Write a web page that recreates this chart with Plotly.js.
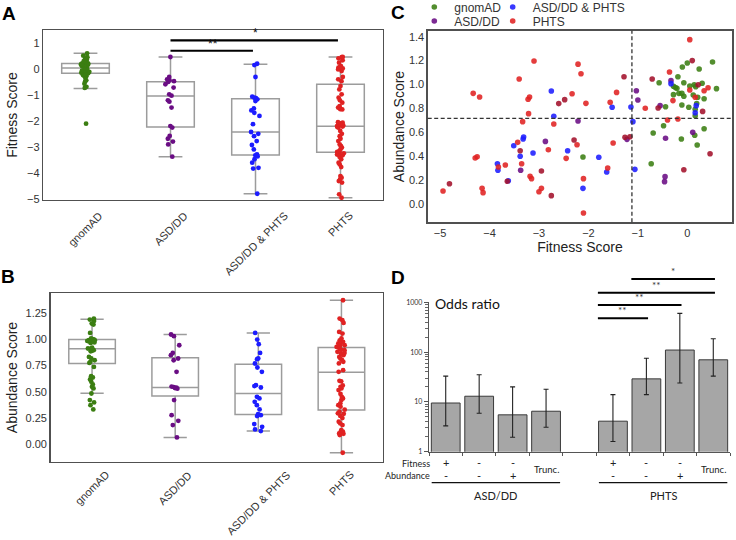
<!DOCTYPE html>
<html><head><meta charset="utf-8">
<script src="https://cdn.plot.ly/plotly-3.0.1.min.js"></script>
<style>html,body{margin:0;padding:0;background:#fff}</style>
</head><body><div id="chart" style="width:736px;height:540px"></div>
<script>
// ---------- categories ----------
const groups = ['gnomAD', 'ASD/DD', 'ASD/DD & PHTS', 'PHTS'];

// ---------- Panel A: fitness scores (strip points) ----------
const fitGnomad = [0.60,0.51,0.45,0.40,0.35,0.30,0.28,0.24,0.21,0.20,0.19,0.17,0.16,0.16,0.15,0.14,0.12,0.10,0.05,0.03,0.00,-0.05,-0.07,-0.07,-0.10,-0.11,-0.12,-0.15,-0.17,-0.19,-0.21,-0.24,-0.28,-0.28,-0.35,-0.44,-0.48,-0.57,-0.69,-0.73,-2.11];
const fitAsd = [0.46,-0.31,-0.40,-0.44,-0.47,-0.50,-0.59,-0.72,-0.98,-1.03,-1.21,-1.26,-1.49,-2.20,-2.26,-2.58,-2.69,-2.80,-2.91,-3.38];
const fitBoth = [0.20,0.15,-0.31,-1.07,-1.11,-1.13,-1.17,-1.24,-1.52,-1.60,-1.69,-1.81,-2.13,-2.43,-2.50,-2.59,-2.78,-2.93,-3.10,-3.29,-3.33,-3.37,-3.48,-3.61,-3.81,-3.84,-4.81];
const fitPhts = [0.46,0.45,0.41,0.33,0.24,0.11,0.08,0.05,0.02,-0.02,-0.08,-0.31,-0.40,-0.47,-0.66,-0.79,-0.98,-1.11,-1.21,-1.30,-1.43,-1.49,-1.50,-1.55,-1.56,-2.05,-2.07,-2.10,-2.11,-2.12,-2.14,-2.16,-2.18,-2.20,-2.22,-2.24,-2.26,-2.39,-2.50,-2.59,-2.69,-2.78,-2.91,-2.97,-3.03,-3.10,-3.16,-3.20,-3.23,-3.25,-3.29,-3.30,-3.33,-3.39,-3.48,-3.61,-3.68,-3.78,-4.13,-4.19,-4.26,-4.32,-4.38,-4.83,-4.96];
// box statistics
const fitQ1 = [-0.17, -2.24, -3.32, -3.21];
const fitMedian = [0.04, -1.04, -2.43, -2.21];
const fitQ3 = [0.21, -0.49, -1.15, -0.59];
const fitLow = [-0.75, -3.38, -4.81, -4.96];
const fitHigh = [0.60, 0.46, 0.18, 0.46];
// significance in A: [from group, to group], label, level (fitness score)
const sigA = [[1, 2], [1, 3]];
const sigALabels = ['**', '*'];
const sigALevels = [0.70, 1.10];

// ---------- Panel B: abundance scores (strip points) ----------
const abGnomad = [1.197,1.187,1.174,1.149,1.14,1.06,1.007,1.0,0.997,0.991,0.99,0.984,0.98,0.975,0.97,0.965,0.921,0.912,0.91,0.902,0.896,0.89,0.886,0.832,0.817,0.80,0.785,0.775,0.737,0.649,0.636,0.617,0.595,0.57,0.547,0.532,0.484,0.421,0.399,0.373,0.332];
const abAsd = [1.045,1.029,0.943,0.87,0.848,0.817,0.80,0.69,0.55,0.545,0.54,0.535,0.53,0.421,0.278,0.224,0.183,0.066];
const abBoth = [1.06,0.997,0.953,0.87,0.817,0.81,0.769,0.731,0.69,0.563,0.554,0.541,0.452,0.437,0.405,0.373,0.332,0.288,0.278,0.269,0.193,0.167,0.142,0.126];
const abPhts = [1.371,1.197,1.181,1.155,1.07,1.054,1.007,0.99,0.975,0.96,0.95,0.943,0.93,0.927,0.912,0.90,0.896,0.88,0.87,0.864,0.848,0.832,0.817,0.80,0.785,0.77,0.706,0.69,0.604,0.60,0.56,0.547,0.532,0.516,0.48,0.452,0.437,0.421,0.39,0.373,0.358,0.33,0.31,0.295,0.29,0.27,0.25,0.215,0.199,0.183,0.136,0.12,0.12,0.104,0.10,0.088,-0.08];
const abQ1 = [0.77, 0.459, 0.285, 0.326];
const abMedian = [0.91, 0.541, 0.484, 0.687];
const abQ3 = [0.997, 0.823, 0.763, 0.921];
const abLow = [0.487, 0.066, 0.126, -0.08];
const abHigh = [1.19, 1.045, 1.06, 1.371];

// ---------- Panel C: fitness vs abundance ----------
const cGnomadFit = [0.51,0.00,-0.10,0.24,-0.19,-0.57,-0.07,0.14,0.30,0.05,0.17,0.59,-0.28,-0.21,-0.24,-0.17,-0.11,-0.28,-0.07,0.12,0.21,0.34,-0.11,-0.44,0.03,0.19,0.16,0.16,-0.48,0.34,-0.69,0.15,-0.12,0.20,-2.11,-0.73];
const cGnomadAb = [1.188,1.18,1.146,1.13,1.065,1.015,1.015,0.998,1.01,0.987,0.982,0.965,0.985,0.968,0.975,0.926,0.926,0.915,0.901,0.912,0.893,0.881,0.828,0.814,0.809,0.84,0.792,0.739,0.655,0.63,0.594,0.575,0.544,0.494,0.393,0.337];
const cAsdFit = [-2.21,-2.87,-3.37,-0.33,-1.03,-1.00,-0.55,0.11,-0.44,-1.22,-0.45,-0.46];
const cAsdAb = [0.695,0.524,0.282,1.032,0.948,0.870,0.823,0.600,0.55,0.541,0.229,0.187];
const cBothFit = [-2.75,-2.70,-3.31,-3.32,-3.51,-2.42,-3.12,-3.38,-3.84,-3.83,-3.62,-0.33,-1.52,-1.14,0.18,0.16,-1.10,-1.79,-1.63,-1.06,-2.11];
const cBothAb = [0.946,0.734,0.561,0.544,0.488,0.446,0.427,0.399,0.337,0.282,0.195,1.007,0.809,0.812,0.823,0.764,0.689,0.391,0.268,0.290,0.131];
const cPhtsFit = [-3.10,-2.21,-2.15,-3.40,-4.33,-4.20,-2.33,-3.19,-3.22,-3.21,-3.33,-2.70,-3.43,-2.23,-2.81,-2.45,-4.29,-4.25,-3.35,-3.68,-3.82,-3.18,-3.15,-4.94,-4.15,-4.13,-2.95,-3.00,0.05,-0.36,0.42,0.34,0.05,-1.43,-1.56,-2.05,-0.29,-0.85,0.16,-0.40,-0.19,-1.50,-1.61,-2.10,-2.10];
const cPhtsAb = [1.197,1.17,1.09,1.046,0.926,0.895,0.923,0.895,0.876,0.756,0.689,0.669,0.516,0.496,0.454,0.382,0.385,0.396,0.337,0.326,0.31,0.232,0.212,0.109,0.131,0.095,0.131,0.103,1.375,1.105,0.973,0.948,0.954,0.934,0.851,0.842,0.865,0.801,0.893,0.703,0.711,0.510,0.301,0.212,-0.075];
// overlapping (dark red) PHTS points
const cOverFit = [-2.48,-2.60,-2.29,-3.38,-2.95,-3.64,-4.81,-2.75,0.10,-1.28,-0.71,0.22,-0.59,0.31,-1.26,-1.16,0.46,-0.07];
const cOverAb = [0.873,0.84,0.536,0.446,0.276,0.19,0.17,0.07,1.20,1.065,1.046,0.998,0.803,0.775,0.558,0.563,0.421,0.287];
const fitThreshold = -1.12;
const abThreshold = 0.717;

// ---------- Panel D: odds ratios ----------
const orGroup = ['ASD/DD','ASD/DD','ASD/DD','ASD/DD','PHTS','PHTS','PHTS','PHTS'];
const orFitness = ['+','-','-','Trunc.','+','-','-','Trunc.'];
const orAbundance = ['-','-','+','','-','-','+',''];
const orValue = [9.5, 13.0, 5.5, 6.5, 4.1, 29, 110, 70];
const orUpper = [33, 35, 20, 18, 14, 75, 600, 185];
const orLower = [3.3, 5.9, 1.95, 3.1, 1.6, 14, 24, 33];
const orTicks = [1, 10, 100, 1000];
const sigD = [[4,5],[4,6],[4,7],[5,7]];   // indices into orValue
const sigDLabels = ['**','**','**','*'];

// ---------- styling ----------
const W = 736, H = 540;
const px = x => x / W;
const py = y => 1 - y / H;
const colors = {'gnomAD':'#3b7e12','ASD/DD':'#6a0d84','ASD/DD & PHTS':'#1c1cff','PHTS':'#e02222'};
const darkRed = '#a3112b';
const font = 'Liberation Sans, Arial, sans-serif';
const dfont = 'Lato, Open Sans, sans-serif';
const txt = '#333333';
const frame = '#505050';
const boxLine = '#9c9c9c';
const slot = i => (i < 4 ? i : i + 1);

const traces = [];
const fitData = [fitGnomad, fitAsd, fitBoth, fitPhts];
const abData = [abGnomad, abAsd, abBoth, abPhts];

// box statistics traces
traces.push({type:'box', xaxis:'x', yaxis:'y', x:groups, q1:fitQ1, median:fitMedian, q3:fitQ3,
  lowerfence:fitLow, upperfence:fitHigh, boxpoints:false, whiskerwidth:0.5,
  line:{color:boxLine, width:1.5}, fillcolor:'rgba(0,0,0,0)', showlegend:false, hoverinfo:'skip'});
traces.push({type:'box', xaxis:'x2', yaxis:'y2', x:groups, q1:abQ1, median:abMedian, q3:abQ3,
  lowerfence:abLow, upperfence:abHigh, boxpoints:false, whiskerwidth:0.5,
  line:{color:boxLine, width:1.5}, fillcolor:'rgba(0,0,0,0)', showlegend:false, hoverinfo:'skip'});
// strip points
groups.forEach((g, i) => {
  [[fitData[i], 'x', 'y'], [abData[i], 'x2', 'y2']].forEach(([vals, xa, ya]) => {
    traces.push({type:'box', xaxis:xa, yaxis:ya, name:g, x:vals.map(() => g), y:vals,
      boxpoints:'all', jitter:0.22, pointpos:0, line:{width:0, color:'rgba(0,0,0,0)'},
      fillcolor:'rgba(0,0,0,0)', marker:{color:colors[g], size:4.8, line:{width:0}},
      showlegend:false, hoveron:'points'});
  });
});

// Panel C scatter
const cSets = [
  ['gnomAD', cGnomadFit, cGnomadAb, colors['gnomAD'], 'legend', true],
  ['ASD/DD', cAsdFit, cAsdAb, colors['ASD/DD'], 'legend2', true],
  ['ASD/DD & PHTS', cBothFit, cBothAb, colors['ASD/DD & PHTS'], 'legend3', true],
  ['PHTS', cPhtsFit, cPhtsAb, colors['PHTS'], 'legend4', true],
  ['PHTS', cOverFit, cOverAb, darkRed, 'legend4', false]
];
cSets.forEach(([name, fx, ay, col, lg, sl]) => {
  traces.push({type:'scatter', mode:'markers', xaxis:'x3', yaxis:'y3', name:name, x:fx, y:ay,
    marker:{color:col, size:5.6, opacity:0.88}, legend:lg, showlegend:sl});
});

// Panel D bars
traces.push({type:'bar', xaxis:'x4', yaxis:'y4', x:orValue.map((v, i) => slot(i)), y:orValue,
  width:0.86, marker:{color:'#a6a6a6', line:{color:'#3a3a3a', width:1}},
  error_y:{type:'data', symmetric:false, array:orUpper.map((u, i) => u - orValue[i]),
    arrayminus:orLower.map((l, i) => orValue[i] - l), color:'#222', thickness:1.1, width:2.5},
  showlegend:false});

// ---------- shapes & annotations ----------
const shapes = [];
const annotations = [];
const ann = (o) => annotations.push(Object.assign({showarrow:false, xanchor:'center', yanchor:'middle'}, o));
// rotated category labels for A and B (centred on the tick, as in the source figure)
groups.forEach(g => {
  ann({xref:'x', yref:'paper', x:g, y:py(207), yanchor:'top', text:g, textangle:-45,
    font:{family:font, size:11, color:txt}});
  ann({xref:'x2', yref:'paper', x:g, y:py(466), yanchor:'top', text:g, textangle:-45,
    font:{family:font, size:11, color:txt}});
});
// significance bars A
sigA.forEach(([a, b], k) => {
  shapes.push({type:'line', xref:'x', yref:'y', x0:a, x1:b - 0.03, y0:sigALevels[k], y1:sigALevels[k],
    line:{color:'#000', width:2.2}});
  ann({xref:'x', yref:'y', x:(a + b) / 2, y:sigALevels[k], text:sigALabels[k],
    yanchor:'bottom', yshift:-2, font:{family:font, size:12, color:'#111'}});
});
// threshold lines C
shapes.push({type:'line', xref:'x3', yref:'y3 domain', x0:fitThreshold, x1:fitThreshold, y0:0, y1:1,
  line:{color:'#333', width:1.3, dash:'4px,2.5px'}});
shapes.push({type:'line', xref:'x3 domain', yref:'y3', x0:0, x1:1, y0:abThreshold, y1:abThreshold,
  line:{color:'#333', width:1.3, dash:'4px,2.5px'}});
// significance bars D
const sigDy = [318.3, 305, 292.7, 279];
sigD.forEach(([a, b], k) => {
  shapes.push({type:'line', xref:'x4', yref:'paper', x0:slot(a) - 0.45, x1:slot(b) + 0.05,
    y0:py(sigDy[k]), y1:py(sigDy[k]), line:{color:'#000', width:2}});
  ann({xref:'x4', yref:'paper', x:(slot(a) - 0.45 + slot(b) + 0.05) / 2, y:py(sigDy[k]),
    text:sigDLabels[k], yanchor:'bottom', yshift:0, font:{family:dfont, size:10, color:'#333'}});
});
// D category labels
orFitness.forEach((s, i) => {
  if (s === 'Trunc.') {
    ann({xref:'x4', yref:'paper', x:slot(i), y:py(469), text:s, font:{family:dfont, size:9.5, color:'#222'}});
  } else {
    ann({xref:'x4', yref:'paper', x:slot(i), y:py(462.7), text:s, font:{family:dfont, size:11, color:'#222'}});
    ann({xref:'x4', yref:'paper', x:slot(i), y:py(475.5), text:orAbundance[i], font:{family:dfont, size:11, color:'#222'}});
  }
});
ann({xref:'paper', yref:'paper', x:px(432), y:py(463), xanchor:'right', text:'Fitness',
  font:{family:dfont, size:9, color:'#222'}});
ann({xref:'paper', yref:'paper', x:px(432), y:py(475.5), xanchor:'right', text:'Abundance',
  font:{family:dfont, size:9, color:'#222'}});
// group underlines & labels
const grpNames = ['ASD/DD', 'PHTS'];
grpNames.forEach((g, k) => {
  const idx = orGroup.map((v, i) => v === g ? slot(i) : null).filter(v => v !== null);
  const lo = Math.min(...idx) - 0.42, hi = Math.max(...idx) + 0.42;
  shapes.push({type:'line', xref:'x4', yref:'paper', x0:lo, x1:hi, y0:py(482.7), y1:py(482.7),
    line:{color:'#111', width:1.2}});
  ann({xref:'x4', yref:'paper', x:(lo + hi) / 2, y:py(495), text:g, font:{family:dfont, size:11, color:'#222'}});
});
ann({xref:'paper', yref:'paper', x:px(433), y:py(303), xanchor:'left', text:'Odds ratio',
  font:{family:dfont, size:14, color:'#111'}});
// panel letters
[['A', 9, 14], ['B', 8, 276], ['C', 398, 12], ['D', 398, 277]].forEach(([t, x, y]) => {
  ann({xref:'paper', yref:'paper', x:px(x), y:py(y), text:'<b>' + t + '</b>', font:{family:font, size:19, color:'#000'}});
});

const legendBase = (x, y) => ({x:px(x - 25), y:py(y), xanchor:'left', yanchor:'middle', orientation:'v',
  font:{family:font, size:12, color:txt}, bgcolor:'rgba(0,0,0,0)', borderwidth:0, itemwidth:30});

const baseAx = {showgrid:false, zeroline:false, showline:true, mirror:true, linecolor:frame, linewidth:1.3,
  ticks:'', tickfont:{family:font, size:11, color:txt}, automargin:false};

const layout = {
  width:W, height:H, margin:{l:0, r:0, t:0, b:0, autoexpand:false},
  paper_bgcolor:'#fff', plot_bgcolor:'#fff', boxmode:'overlay', boxgap:0.2,
  showlegend:true,
  xaxis:Object.assign({}, baseAx, {domain:[px(43), px(383)], anchor:'y', type:'category',
    categoryorder:'array', categoryarray:groups, showticklabels:false}),
  yaxis:Object.assign({}, baseAx, {domain:[py(200), py(30)], anchor:'x', range:[-5.05, 1.5], dtick:1,
    title:{text:'Fitness Score', font:{family:font, size:14, color:'#222'}, standoff:6}}),
  xaxis2:Object.assign({}, baseAx, {domain:[px(50.5), px(383)], anchor:'y2', type:'category',
    categoryorder:'array', categoryarray:groups, showticklabels:false}),
  yaxis2:Object.assign({}, baseAx, {domain:[py(462), py(293)], anchor:'x2', range:[-0.168, 1.44], dtick:0.25,
    tickformat:'.2f', title:{text:'Abundance Score', font:{family:font, size:14, color:'#222'}, standoff:4}}),
  xaxis3:Object.assign({}, baseAx, {domain:[px(427.7), px(732.3)], anchor:'y3', range:[-5.25, 0.91], dtick:1,
    title:{text:'Fitness Score', font:{family:font, size:14, color:'#222'}, standoff:2}}),
  yaxis3:Object.assign({}, baseAx, {domain:[py(222.3), py(30.7)], anchor:'x3', range:[-0.153, 1.45], dtick:0.2,
    tickformat:'.1f', title:{text:'Abundance Score', font:{family:font, size:14, color:'#222'}, standoff:1}}),
  xaxis4:{domain:[px(429), px(730)], anchor:'y4', range:[-0.5, 8.5], showgrid:false, zeroline:false,
    showline:true, linecolor:'#555', linewidth:1.2, tickmode:'array', automargin:false,
    tickvals:[-0.5,0.5,1.5,2.5,3.5,4.5,5.5,6.5,7.5,8.5], ticks:'outside', ticklen:3, tickcolor:'#555',
    showticklabels:false},
  yaxis4:{domain:[py(451.7), py(302.3)], anchor:'x4', type:'log', range:[0, 3], showgrid:false, zeroline:false,
    showline:true, linecolor:'#555', linewidth:1.2, tickmode:'array', tickvals:orTicks, ticktext:orTicks.map(String),
    ticks:'outside', ticklen:4, tickcolor:'#555', tickfont:{family:dfont, size:7, color:'#333'}, automargin:false,
    minor:{ticks:'outside', ticklen:3, tickcolor:'#666', dtick:'D1', showgrid:false}},
  legend:legendBase(439.3, 7),
  legend2:legendBase(439.3, 21),
  legend3:legendBase(517.7, 7),
  legend4:legendBase(517.7, 21),
  shapes:shapes,
  annotations:annotations
};

Plotly.newPlot('chart', traces, layout, {staticPlot:true, displayModeBar:false});
</script>
</body></html>
